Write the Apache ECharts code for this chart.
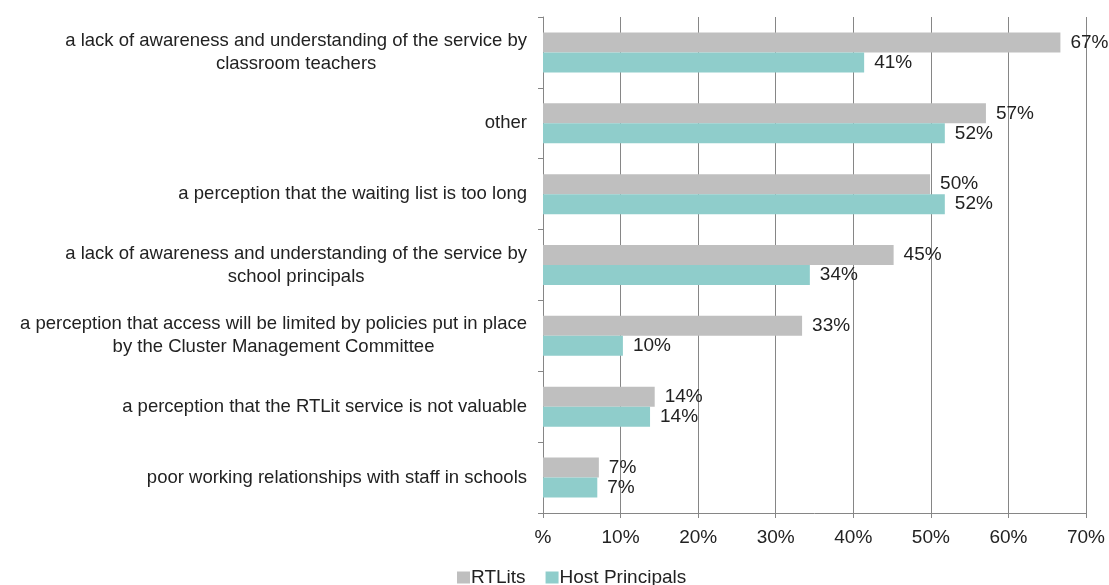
<!DOCTYPE html>
<html>
<head>
<meta charset="utf-8">
<script src="https://cdn.jsdelivr.net/npm/echarts@6/dist/echarts.min.js"></script>
<style>html,body{margin:0;padding:0;background:#fff}#c{width:1109px;height:585px}</style>
</head>
<body>
<div id="c"></div>
<script>
const categories = [
  "a lack of awareness and understanding of the service by\nclassroom teachers",
  "other",
  "a perception that the waiting list is too long",
  "a lack of awareness and understanding of the service by\nschool principals",
  "a perception that access will be limited by policies put in place\nby the Cluster Management Committee",
  "a perception that the RTLit service is not valuable",
  "poor working relationships with staff in schools"
];
const rtlits = [66.7, 57.1, 49.9, 45.2, 33.4, 14.4, 7.2];
const hostPrincipals = [41.4, 51.8, 51.8, 34.4, 10.3, 13.8, 7.0];
const seriesNames = ["RTLits", "Host Principals"];
const xTicks = [0, 10, 20, 30, 40, 50, 60, 70];

const chart = echarts.init(document.getElementById('c'));
const font = '"Liberation Sans", Arial, sans-serif';
const labelCfg = {
  show: true, position: 'right', distance: 10,
  color: '#222', fontSize: 19, fontFamily: font,
  formatter: p => Math.round(p.value) + '%'
};
chart.setOption({
  animation: false,
  textStyle: { fontFamily: font },
  grid: { left: 543, right: 23, top: 17, bottom: 72 },
  legend: {
    bottom: -7, left: 452,
    itemWidth: 13, itemHeight: 12, itemGap: 20,
    icon: 'rect',
    textStyle: { fontSize: 19, color: '#222', fontFamily: font, padding: [0, 0, 0, -4] },
    data: seriesNames
  },
  xAxis: {
    type: 'value', min: xTicks[0], max: xTicks[xTicks.length - 1], interval: 10,
    axisLine: { show: true, lineStyle: { color: '#868686' } },
    axisTick: { show: true, length: 5, lineStyle: { color: '#868686' } },
    splitLine: { show: true, lineStyle: { color: '#868686' } },
    axisLabel: { fontSize: 19, color: '#222', margin: 15, fontFamily: font,
      formatter: v => v === 0 ? '%' : v + '%' }
  },
  yAxis: {
    type: 'category', inverse: true, data: categories,
    axisLine: { show: true, lineStyle: { color: '#868686' } },
    axisTick: { show: true, length: 5, lineStyle: { color: '#868686' } },
    axisLabel: {
      margin: 16, fontSize: 18.5, color: '#222', fontFamily: font, lineHeight: 23,
      formatter: v => v.split('\n').map(s => '{c|' + s + '}').join('\n'),
      rich: { c: { align: 'center', fontSize: 18.5, color: '#222', fontFamily: font, lineHeight: 23 } }
    }
  },
  series: [
    { name: seriesNames[0], type: 'bar', data: rtlits, barWidth: 20, barGap: '0%',
      itemStyle: { color: '#BFBFBF' }, label: labelCfg },
    { name: seriesNames[1], type: 'bar', data: hostPrincipals, barWidth: 20, barGap: '0%',
      itemStyle: { color: '#8FCDCB' }, label: labelCfg }
  ]
});
</script>
</body>
</html>
